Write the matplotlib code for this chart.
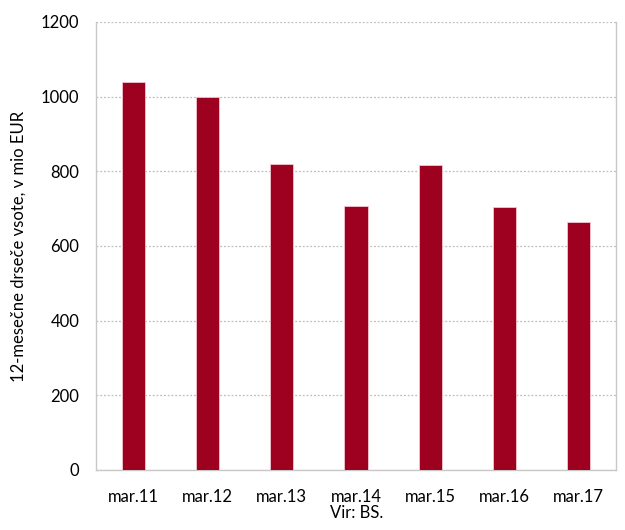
"""
Bar chart: 12-month rolling sums, in million EUR
"""
import matplotlib
matplotlib.use("Agg")
import matplotlib.pyplot as plt

categories = ["mar.11", "mar.12", "mar.13", "mar.14", "mar.15", "mar.16", "mar.17"]
values = [1039, 999, 820, 708, 817, 705, 664]
y_ticks = [0, 200, 400, 600, 800, 1000, 1200]

plt.rcParams['font.family'] = ['Lato', 'DejaVu Sans']

fig = plt.figure(figsize=(6.25, 5.3), dpi=100)
ax = fig.add_axes([96 / 625, 60 / 530, 520 / 625, 448 / 530])

ax.bar(range(len(categories)), values, width=0.31, color='#9e001f',
       edgecolor='#f2c6cf', linewidth=0.6, zorder=3)

ax.set_xlim(-0.5, len(categories) - 0.5)
ax.set_ylim(0, 1200)
ax.set_yticks(y_ticks)
ax.set_xticks(range(len(categories)))
ax.set_xticklabels(categories)

# dotted grid, no top spine
ax.yaxis.grid(True, color='#bdbdbd', linestyle=(0, (1.5, 1.5)), linewidth=0.9, zorder=0)
ax.spines['top'].set_visible(False)
for side in ('left', 'right', 'bottom'):
    ax.spines[side].set_color('#c8c8c8')
    ax.spines[side].set_linewidth(1.0)

ax.tick_params(axis='both', length=0, labelsize=12, colors='black')
ax.tick_params(axis='x', pad=14)
ax.tick_params(axis='y', pad=12)

ax.set_ylabel("12-mesečne drseče vsote, v mio EUR", fontsize=12, labelpad=10)
fig.text(357 / 625, 1 - 513 / 530, "Vir: BS.", ha='center', va='center', fontsize=12)

plt.savefig("out.png", dpi=100)
